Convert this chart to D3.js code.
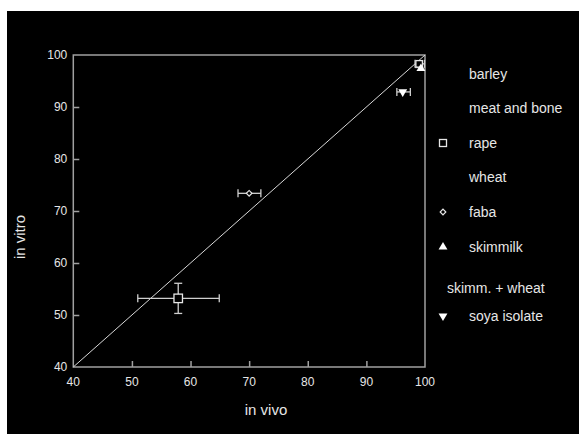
<!DOCTYPE html>
<html>
<head>
<meta charset="utf-8">
<script src="https://cdn.jsdelivr.net/npm/d3@7"></script>
<style>
  html, body { margin: 0; padding: 0; background: #fff; }
  svg { display: block; }
  text { font-family: Arial, "Liberation Sans", sans-serif; fill: #e6e6e6; }
</style>
</head>
<body>
<svg id="chart" width="579" height="434"></svg>
<script>
// values
const pointNames = ['rape', 'faba', 'soya isolate', 'rape (top)', 'skimmilk'];
const pointShapes = ['square', 'diamond', 'down', 'square', 'up'];
const inVivo  = [57.9, 70.0, 96.2, 99.0, 99.3];
const inVitro = [53.2, 73.4, 92.9, 98.3, 97.4];
const xLow  = [51.0, 68.1, 95.2, 98.3, 99.3];
const xHigh = [64.9, 72.0, 97.5, 99.9, 99.3];
const yLow  = [50.3, 73.4, 92.9, 97.6, 97.4];
const yHigh = [56.1, 73.4, 92.9, 98.3, 97.4];

const legendNames  = ['barley', 'meat and bone', 'rape', 'wheat', 'faba', 'skimmilk', 'skimm. + wheat', 'soya isolate'];
const legendShapes = [null, null, 'square', null, 'diamond', 'up', null, 'down'];

const xTicks = [40, 50, 60, 70, 80, 90, 100];
const yTicks = [40, 50, 60, 70, 80, 90, 100];

const svg = d3.select('#chart');
const margin = { left: 73.3, right: 425, top: 55, bottom: 367 };
const axisColor = '#a0a0a0';

svg.append('rect')
  .attr('x', 7).attr('y', 11)
  .attr('width', 579 - 7).attr('height', 434 - 11)
  .attr('fill', '#000');

const x = d3.scaleLinear().domain([40, 100]).range([margin.left, margin.right]);
const y = d3.scaleLinear().domain([40, 100]).range([margin.bottom, margin.top]);

// frame: left, bottom axes + top/right borders
const g = svg.append('g');
g.append('rect')
  .attr('x', x(40)).attr('y', y(100))
  .attr('width', x(100) - x(40)).attr('height', y(40) - y(100))
  .attr('fill', 'none').attr('stroke', axisColor).attr('stroke-width', 1.5);

const xAxis = g.append('g')
  .attr('transform', 'translate(0,' + y(40) + ')')
  .call(d3.axisTop(x).tickValues(xTicks.slice(1, -1)).tickSize(6).tickFormat(''));
const yAxis = g.append('g')
  .attr('transform', 'translate(' + x(40) + ',0)')
  .call(d3.axisRight(y).tickValues(yTicks.slice(1, -1)).tickSize(6).tickFormat(''));
[xAxis, yAxis].forEach(a => {
  a.select('.domain').remove();
  a.selectAll('line').attr('stroke', axisColor).attr('stroke-width', 1.5);
});

// tick labels
g.selectAll('.xl').data(xTicks).enter().append('text')
  .attr('x', d => x(d)).attr('y', y(40) + 19)
  .attr('text-anchor', 'middle').attr('font-size', 12)
  .text(d => d);
g.selectAll('.yl').data(yTicks).enter().append('text')
  .attr('x', x(40) - 6).attr('y', d => y(d) + 4)
  .attr('text-anchor', 'end').attr('font-size', 12)
  .text(d => d);

// axis titles
svg.append('text')
  .attr('x', 266).attr('y', 415)
  .attr('text-anchor', 'middle').attr('font-size', 15)
  .text('in vivo');
svg.append('text')
  .attr('transform', 'translate(25,' + 237 + ') rotate(-90)')
  .attr('text-anchor', 'middle').attr('font-size', 15)
  .text('in vitro');

// 1:1 line
g.append('line')
  .attr('x1', x(40)).attr('y1', y(40))
  .attr('x2', x(100)).attr('y2', y(100))
  .attr('stroke', '#d8d8d8').attr('stroke-width', 1);

// error bars
const errColor = '#cfcfcf';
const pts = pointNames.map((n, i) => ({ n, i }));
const eb = g.append('g').attr('stroke', errColor).attr('stroke-width', 1.3);
pts.forEach(({ i }) => {
  const cx = x(inVivo[i]), cy = y(inVitro[i]);
  if (xHigh[i] > xLow[i]) {
    eb.append('line').attr('x1', x(xLow[i])).attr('x2', x(xHigh[i])).attr('y1', cy).attr('y2', cy);
    [xLow[i], xHigh[i]].forEach(v => eb.append('line')
      .attr('x1', x(v)).attr('x2', x(v)).attr('y1', cy - 4).attr('y2', cy + 4));
  }
  if (yHigh[i] > yLow[i]) {
    eb.append('line').attr('x1', cx).attr('x2', cx).attr('y1', y(yLow[i])).attr('y2', y(yHigh[i]));
    [yLow[i], yHigh[i]].forEach(v => eb.append('line')
      .attr('x1', cx - 4).attr('x2', cx + 4).attr('y1', y(v)).attr('y2', y(v)));
  }
});

function drawSymbol(sel, shape, cx, cy, s) {
  if (shape === 'square') {
    sel.append('rect').attr('x', cx - s / 2).attr('y', cy - s / 2).attr('width', s).attr('height', s)
      .attr('fill', '#000').attr('stroke', '#e6e6e6').attr('stroke-width', 1.3);
  } else if (shape === 'diamond') {
    sel.append('path').attr('transform', 'translate(' + cx + ',' + cy + ') rotate(45)')
      .attr('d', d3.symbol().type(d3.symbolSquare).size(16)())
      .attr('fill', '#000').attr('stroke', '#e6e6e6').attr('stroke-width', 1.2);
  } else if (shape === 'up' || shape === 'down') {
    sel.append('path').attr('transform', 'translate(' + cx + ',' + cy + ')' + (shape === 'down' ? ' rotate(180)' : ''))
      .attr('d', d3.symbol().type(d3.symbolTriangle).size(34)())
      .attr('fill', '#fff');
  }
}

const pointSizes = [8.5, 0, 0, 6.5, 0];
pts.forEach(({ i }) => drawSymbol(g, pointShapes[i], x(inVivo[i]), y(inVitro[i]), pointSizes[i]));

// legend
const legendY = [74, 108, 143, 177, 212, 247, 288, 316];
const lg = svg.append('g');
legendNames.forEach((name, i) => {
  if (legendShapes[i]) drawSymbol(lg, legendShapes[i], 443, legendY[i], 7);
  lg.append('text')
    .attr('x', name === 'skimm. + wheat' ? 447 : 469)
    .attr('y', legendY[i] + 5)
    .attr('font-size', 14)
    .text(name);
});
</script>
</body>
</html>
